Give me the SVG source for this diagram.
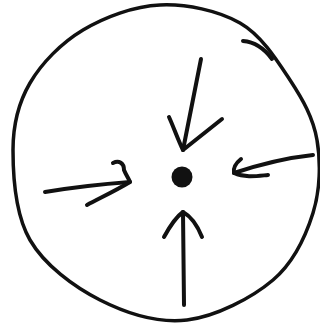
<svg xmlns="http://www.w3.org/2000/svg" width="320" height="325" viewBox="0 0 320 325">
<style>
.ink{fill:none;stroke:#111;stroke-width:4;stroke-linecap:round;stroke-linejoin:round}
.rim{fill:none;stroke:#111;stroke-width:3.5;stroke-linecap:round}
</style>
<rect width="320" height="325" fill="#fff"/>
<g id="circle">
<path class="rim" d="M13,150 C13,123.8 18.3,103 30,83 C41.7,63 61.3,43 83,30 C104.7,17 133.8,6.2 160,5 C186.2,3.8 218.3,10.5 240,23 C261.7,35.5 277.2,60.5 290,80 C302.8,99.5 313.2,117.8 317,140 C320.8,162.2 320.3,189.7 313,213 C305.7,236.3 294,262.2 273,280 C252,297.8 215.8,316.7 187,320 C158.2,323.3 126.2,313.3 100,300 C73.8,286.7 44.5,265 30,240 C15.5,215 13,176.2 13,150 Z"/>
<path class="ink" d="M243,41 C255,42 264,48 272,59"/>
</g>
<g id="center">
<circle cx="182" cy="177" r="10.5" fill="#111"/>
</g>
<g id="connectors">
<g id="arrow-top">
<path class="ink" d="M201,59 L183,150"/>
<path class="ink" d="M169,117 C174,128 178,140 183,150 L222,119"/>
</g>
<g id="arrow-right">
<path class="ink" d="M313,155 C285,158 258,165 234,173"/>
<path class="ink" d="M241,159 C236,163 233,168 234,173 C245,178 257,176 268,175"/>
</g>
<g id="arrow-left">
<path class="ink" d="M45,192 C75,187 103,184 130,182"/>
<path class="ink" d="M113,163 C119,160 124,163 124,170 C126,175 129,179 130,182 C115,191 100,198 87,205"/>
</g>
<g id="arrow-bottom">
<path class="ink" d="M184,305 L183,212"/>
<path class="ink" d="M164,237 C170,226 176,217 183,212 C192,217 198,227 202,237"/>
</g>
</g>
</svg>
